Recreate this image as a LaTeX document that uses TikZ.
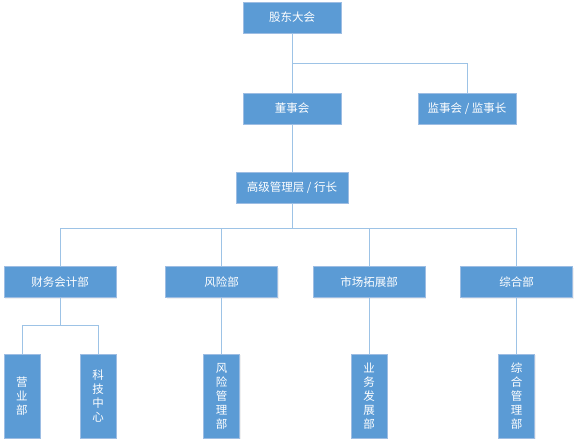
\documentclass[tikz,border=0pt]{standalone}
\usepackage{fontspec}
\newfontfamily\cjk{Noto Sans CJK SC}
\usepackage{tikz}
\usetikzlibrary{positioning, shadows}
\definecolor{orgfill}{HTML}{5B9BD5}
\definecolor{orgedge}{HTML}{9DBDE3}
\definecolor{orgline}{HTML}{9DC3E6}
\tikzset{
  orgbox/.style={
    rectangle,
    draw=orgedge,
    fill=orgfill,
    line width=0.8pt,
    text=white,
    align=center,
    inner sep=0pt,
    outer sep=0pt,
    drop shadow={opacity=0.12, shadow xshift=1pt, shadow yshift=-1pt},
    font=\cjk\fontsize{11.5}{14}\selectfont
  },
  headbox/.style={orgbox, minimum width=98pt, minimum height=31pt},
  deptbox/.style={orgbox, minimum width=112pt, minimum height=31pt},
  unitbox/.style={orgbox, minimum width=36pt, minimum height=84pt},
  orglink/.style={draw=orgline, line width=1pt}
}

\begin{document}
\begin{tikzpicture}[x=1pt, y=1pt]
  \useasboundingbox (0,0) rectangle (578,-445);

  \node[headbox] (meeting) at (292,-17.5) {股东大会};
  \node[headbox, below=60pt of meeting] (board) {董事会};
  \node[headbox, right=77pt of board] (supervisor) {监事会 / 监事长};
  \node[deptbox, below=48pt of board] (mgmt) {高级管理层 / 行长};

  \node[deptbox] (finance) at (60,-282) {财务会计部};
  \node[deptbox, right=49.5pt of finance] (risk) {风险部};
  \node[deptbox, right=35.5pt of risk] (market) {市场拓展部};
  \node[deptbox, right=35.5pt of market] (general) {综合部};

  \node[unitbox] (business) at (22,-396) {营\\业\\部};
  \node[unitbox, right=40pt of business] (tech) {科\\技\\中\\心};
  \node[unitbox, below=56.5pt of risk] (riskmgmt) {风\\险\\管\\理\\部};
  \node[unitbox, below=56.5pt of market] (develop) {业\\务\\发\\展\\部};
  \node[unitbox, below=56.5pt of general] (genmgmt) {综\\合\\管\\理\\部};

  \draw[orglink] (meeting) -- (board);
  \draw[orglink] (meeting.south) -- ++(0,-30.5) -| (supervisor.north);
  \draw[orglink] (board) -- (mgmt);
  \draw[orglink] (mgmt.south) -- ++(0,-25) -| (finance.north);
  \draw[orglink] (mgmt.south) -- ++(0,-25) -| (risk.north);
  \draw[orglink] (mgmt.south) -- ++(0,-25) -| (market.north);
  \draw[orglink] (mgmt.south) -- ++(0,-25) -| (general.north);
  \draw[orglink] (finance.south) -- ++(0,-28) -| (business.north);
  \draw[orglink] (finance.south) -- ++(0,-28) -| (tech.north);
  \draw[orglink] (risk) -- (riskmgmt);
  \draw[orglink] (market) -- (develop);
  \draw[orglink] (general) -- (genmgmt);
\end{tikzpicture}
\end{document}
